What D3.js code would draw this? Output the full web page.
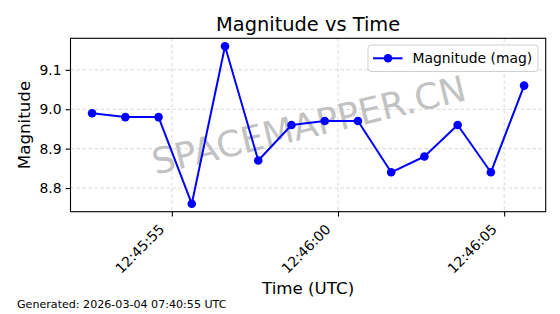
<!DOCTYPE html>
<html>
<head>
<meta charset="utf-8">
<script src="https://cdn.jsdelivr.net/npm/d3@7"></script>
<style>
body { margin: 0; background: #fff; }
svg { display: block; font-family: "DejaVu Sans", sans-serif; }
</style>
</head>
<body>
<div id="chart"></div>
<script>
var width = 560;
var height = 314;

// data
var times = ["12:45:52.600", "12:45:53.600", "12:45:54.600", "12:45:55.600", "12:45:56.600",
             "12:45:57.600", "12:45:58.600", "12:45:59.600", "12:46:00.600", "12:46:01.600",
             "12:46:02.600", "12:46:03.600", "12:46:04.600", "12:46:05.600"];
var magnitudes = [8.99, 8.98, 8.98, 8.76, 9.16, 8.87, 8.96, 8.97, 8.97, 8.84, 8.88, 8.96, 8.84, 9.06];
var yTicks = [8.8, 8.9, 9.0, 9.1];
var seriesName = "Magnitude (mag)";
var generated = "Generated: 2026-03-04 07:40:55 UTC";

var parseTime = d3.utcParse("%H:%M:%S.%L");
var data = times.map(function(t, i) { return { t: parseTime(t), v: magnitudes[i] }; });

var plotL = 70.5, plotR = 545.7, plotT = 38.3, plotB = 211.7;

// matplotlib style 5% margins
function pad(ext) {
  var d = (ext[1] - ext[0]) * 0.05;
  return [ext[0] - d, ext[1] + d];
}
var tExt = d3.extent(data, d => +d.t);
var x = d3.scaleUtc().domain(pad(tExt).map(d => new Date(d))).range([plotL, plotR]);
var y = d3.scaleLinear().domain(pad(d3.extent(magnitudes))).range([plotB, plotT]);

var svg = d3.select("#chart").append("svg")
  .attr("width", width)
  .attr("height", height);

svg.append("rect").attr("width", width).attr("height", height).attr("fill", "#fff");

var xTickVals = x.ticks(d3.utcSecond.every(5));

// grid
var grid = svg.append("g").attr("stroke", "#cfcfcf").attr("stroke-width", 0.8)
  .attr("stroke-dasharray", "3.5,2.5");
grid.selectAll("line.gx").data(xTickVals).enter().append("line")
  .attr("x1", d => x(d)).attr("x2", d => x(d)).attr("y1", plotT).attr("y2", plotB);
grid.selectAll("line.gy").data(yTicks).enter().append("line")
  .attr("x1", plotL).attr("x2", plotR).attr("y1", d => y(d)).attr("y2", d => y(d));

// watermark
svg.append("text")
  .attr("transform", "translate(309.5,127.5) rotate(-13.5)")
  .attr("text-anchor", "middle")
  .attr("dominant-baseline", "middle")
  .attr("font-size", 35.8)
  .attr("fill", "#c2c2c2")
  .text("SPACEMAPPER.CN");

// line + markers
var line = d3.line().x(d => x(d.t)).y(d => y(d.v));
svg.append("path").datum(data)
  .attr("d", line)
  .attr("fill", "none")
  .attr("stroke", "#0000ff")
  .attr("stroke-width", 2)
  .attr("stroke-linejoin", "round");
svg.append("g").selectAll("circle").data(data).enter().append("circle")
  .attr("cx", d => x(d.t)).attr("cy", d => y(d.v)).attr("r", 4.3)
  .attr("fill", "#0000ff");

// axes frame
svg.append("rect")
  .attr("x", plotL).attr("y", plotT)
  .attr("width", plotR - plotL).attr("height", plotB - plotT)
  .attr("fill", "none").attr("stroke", "#000").attr("stroke-width", 1.1);

// y axis
var yAxis = d3.axisLeft(y).tickValues(yTicks).tickFormat(d3.format(".1f"))
  .tickSize(4.9).tickPadding(4);
var gy = svg.append("g").attr("transform", "translate(" + plotL + ",0)").call(yAxis);
gy.select(".domain").remove();
gy.selectAll(".tick line").attr("stroke-width", 1.1);
gy.selectAll(".tick text").attr("font-size", 13.9).attr("font-family", "DejaVu Sans").attr("fill", "#000");

// x axis
var xAxis = d3.axisBottom(x).tickValues(xTickVals).tickFormat(d3.utcFormat("%H:%M:%S"))
  .tickSize(4.9);
var gx = svg.append("g").attr("transform", "translate(0," + plotB + ")").call(xAxis);
gx.select(".domain").remove();
gx.selectAll(".tick line").attr("stroke-width", 1.1);
gx.selectAll(".tick text")
  .attr("font-size", 13.9).attr("font-family", "DejaVu Sans").attr("fill", "#000")
  .attr("text-anchor", "end")
  .attr("dy", null).attr("y", null)
  .attr("transform", "translate(-7,18.5) rotate(-45)");

// titles
svg.append("text").attr("x", (plotL + plotR) / 2).attr("y", 30.5)
  .attr("text-anchor", "middle").attr("font-size", 19.4).text("Magnitude vs Time");
svg.append("text").attr("x", (plotL + plotR) / 2).attr("y", 294)
  .attr("text-anchor", "middle").attr("font-size", 16.7).text("Time (UTC)");
svg.append("text").attr("transform", "translate(29.5," + (plotT + plotB) / 2 + ") rotate(-90)")
  .attr("text-anchor", "middle").attr("font-size", 16.7).text("Magnitude");

// legend
var lg = svg.append("g").attr("transform", "translate(368,45)");
lg.append("rect").attr("width", 170).attr("height", 26.5).attr("rx", 3)
  .attr("fill", "#fff").attr("fill-opacity", 0.8)
  .attr("stroke", "#d0d0d0").attr("stroke-width", 1);
lg.append("line").attr("x1", 5).attr("x2", 34.5).attr("y1", 13.3).attr("y2", 13.3)
  .attr("stroke", "#0000ff").attr("stroke-width", 2);
lg.append("circle").attr("cx", 20).attr("cy", 13.3).attr("r", 4.3).attr("fill", "#0000ff");
lg.append("text").attr("x", 44.5).attr("y", 18.3).attr("font-size", 13.9).text(seriesName);

// footer
svg.append("text").attr("x", 17).attr("y", 308).attr("font-size", 11.1).text(generated);
</script>
</body>
</html>
